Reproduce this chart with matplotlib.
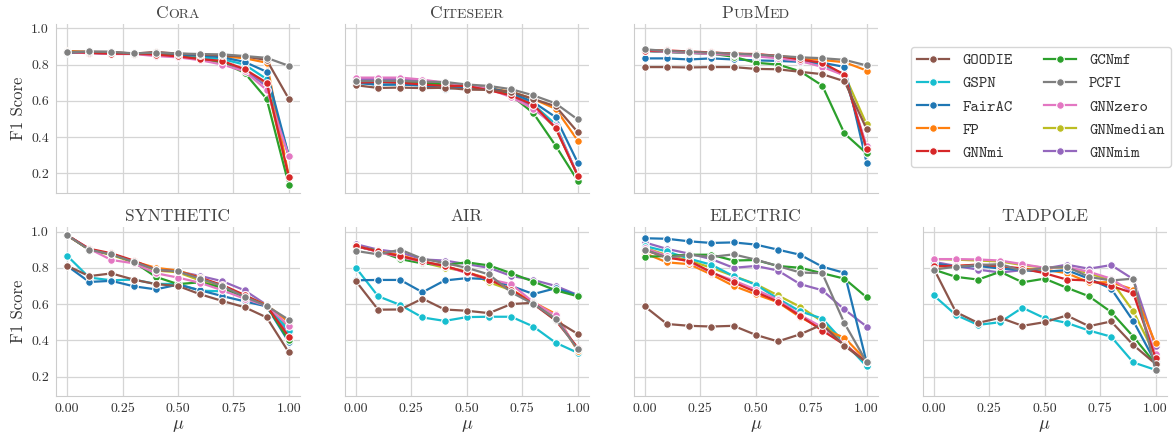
import matplotlib
matplotlib.use('Agg')
import matplotlib.pyplot as plt
from matplotlib.lines import Line2D
from matplotlib.ticker import FormatStrFormatter
from matplotlib.offsetbox import TextArea, HPacker, AnchoredOffsetbox

mu = [0.0, 0.1, 0.2, 0.3, 0.4, 0.5, 0.6, 0.7, 0.8, 0.9, 1.0]

methods = ['GOODIE', 'GSPN', 'FairAC', 'FP', 'GNNmi',
           'GCNmf', 'PCFI', 'GNNzero', 'GNNmedian', 'GNNmim']
colors = {'GOODIE': '#8c564b', 'GSPN': '#17becf', 'FairAC': '#1f77b4',
          'FP': '#ff7f0e', 'GNNmi': '#d62728', 'GCNmf': '#2ca02c',
          'PCFI': '#7f7f7f', 'GNNzero': '#e377c2', 'GNNmedian': '#bcbd22',
          'GNNmim': '#9467bd'}
# order the lines are drawn in (last one ends up on top)
draw_order = ['GNNmedian', 'GNNmim', 'GSPN', 'FP', 'FairAC', 'GCNmf',
              'GNNzero', 'GNNmi', 'GOODIE', 'PCFI']

cora = {
    'GOODIE':    [0.870, 0.870, 0.870, 0.860, 0.870, 0.860, 0.855, 0.850, 0.845, 0.825, 0.610],
    'GSPN':      [0.870, 0.865, 0.865, 0.860, 0.860, 0.850, 0.840, 0.830, 0.800, 0.720, 0.295],
    'FairAC':    [0.865, 0.865, 0.860, 0.860, 0.860, 0.855, 0.850, 0.840, 0.815, 0.760, 0.295],
    'FP':        [0.875, 0.870, 0.865, 0.860, 0.860, 0.855, 0.850, 0.845, 0.835, 0.810, 0.180],
    'GNNmi':     [0.870, 0.865, 0.860, 0.860, 0.855, 0.845, 0.830, 0.820, 0.775, 0.700, 0.180],
    'GCNmf':     [0.870, 0.865, 0.860, 0.860, 0.855, 0.845, 0.830, 0.810, 0.755, 0.610, 0.135],
    'PCFI':      [0.868, 0.872, 0.870, 0.862, 0.865, 0.861, 0.858, 0.856, 0.847, 0.837, 0.793],
    'GNNzero':   [0.870, 0.862, 0.858, 0.858, 0.847, 0.840, 0.824, 0.800, 0.763, 0.660, 0.295],
    'GNNmedian': [0.870, 0.865, 0.860, 0.860, 0.855, 0.845, 0.830, 0.815, 0.770, 0.690, 0.180],
    'GNNmim':    [0.870, 0.865, 0.860, 0.860, 0.855, 0.845, 0.830, 0.815, 0.770, 0.680, 0.295],
}

citeseer = {
    'GOODIE':    [0.686, 0.671, 0.673, 0.670, 0.672, 0.662, 0.660, 0.650, 0.610, 0.570, 0.427],
    'GSPN':      [0.700, 0.690, 0.690, 0.685, 0.680, 0.675, 0.665, 0.640, 0.580, 0.470, 0.187],
    'FairAC':    [0.700, 0.688, 0.690, 0.685, 0.667, 0.675, 0.670, 0.645, 0.593, 0.510, 0.259],
    'FP':        [0.710, 0.705, 0.705, 0.695, 0.690, 0.680, 0.670, 0.650, 0.610, 0.556, 0.381],
    'GNNmi':     [0.700, 0.704, 0.700, 0.690, 0.682, 0.682, 0.658, 0.630, 0.578, 0.451, 0.187],
    'GCNmf':     [0.710, 0.705, 0.705, 0.700, 0.690, 0.680, 0.665, 0.630, 0.532, 0.353, 0.159],
    'PCFI':      [0.708, 0.710, 0.710, 0.705, 0.704, 0.690, 0.682, 0.664, 0.630, 0.586, 0.497],
    'GNNzero':   [0.728, 0.728, 0.728, 0.717, 0.700, 0.685, 0.665, 0.620, 0.556, 0.460, 0.190],
    'GNNmedian': [0.715, 0.715, 0.715, 0.705, 0.695, 0.685, 0.665, 0.635, 0.570, 0.450, 0.190],
    'GNNmim':    [0.720, 0.720, 0.720, 0.710, 0.700, 0.685, 0.665, 0.630, 0.565, 0.455, 0.190],
}

pubmed = {
    'GOODIE':    [0.786, 0.786, 0.784, 0.786, 0.786, 0.776, 0.774, 0.760, 0.747, 0.708, 0.444],
    'GSPN':      [0.875, 0.870, 0.865, 0.860, 0.855, 0.850, 0.840, 0.825, 0.800, 0.740, 0.333],
    'FairAC':    [0.834, 0.834, 0.828, 0.834, 0.828, 0.823, 0.820, 0.815, 0.810, 0.787, 0.259],
    'FP':        [0.880, 0.875, 0.870, 0.865, 0.860, 0.855, 0.848, 0.835, 0.825, 0.813, 0.767],
    'GNNmi':     [0.876, 0.878, 0.872, 0.867, 0.860, 0.858, 0.848, 0.828, 0.810, 0.745, 0.333],
    'GCNmf':     [0.876, 0.870, 0.865, 0.860, 0.843, 0.810, 0.800, 0.763, 0.684, 0.420, 0.310],
    'PCFI':      [0.884, 0.875, 0.870, 0.865, 0.860, 0.855, 0.848, 0.840, 0.835, 0.826, 0.795],
    'GNNzero':   [0.876, 0.870, 0.865, 0.858, 0.853, 0.845, 0.835, 0.820, 0.787, 0.740, 0.350],
    'GNNmedian': [0.876, 0.870, 0.865, 0.860, 0.855, 0.848, 0.840, 0.825, 0.800, 0.745, 0.470],
    'GNNmim':    [0.876, 0.870, 0.865, 0.860, 0.855, 0.848, 0.840, 0.825, 0.800, 0.745, 0.340],
}

synthetic = {
    'GOODIE':    [0.811, 0.754, 0.769, 0.735, 0.710, 0.700, 0.654, 0.617, 0.583, 0.526, 0.333],
    'GSPN':      [0.867, 0.746, 0.731, 0.735, 0.711, 0.711, 0.674, 0.670, 0.650, 0.590, 0.454],
    'FairAC':    [0.811, 0.722, 0.728, 0.698, 0.681, 0.707, 0.676, 0.644, 0.615, 0.587, 0.390],
    'FP':        [0.980, 0.900, 0.875, 0.835, 0.800, 0.785, 0.745, 0.700, 0.645, 0.595, 0.500],
    'GNNmi':     [0.980, 0.905, 0.880, 0.840, 0.790, 0.780, 0.745, 0.705, 0.650, 0.590, 0.420],
    'GCNmf':     [0.980, 0.900, 0.875, 0.833, 0.750, 0.710, 0.720, 0.690, 0.640, 0.590, 0.400],
    'PCFI':      [0.980, 0.900, 0.874, 0.833, 0.790, 0.780, 0.740, 0.700, 0.640, 0.590, 0.513],
    'GNNzero':   [0.980, 0.905, 0.843, 0.825, 0.770, 0.746, 0.717, 0.676, 0.630, 0.590, 0.480],
    'GNNmedian': [0.980, 0.900, 0.870, 0.830, 0.785, 0.775, 0.730, 0.690, 0.640, 0.590, 0.470],
    'GNNmim':    [0.980, 0.900, 0.875, 0.835, 0.790, 0.780, 0.755, 0.726, 0.676, 0.595, 0.440],
}

air = {
    'GOODIE':    [0.726, 0.569, 0.570, 0.630, 0.570, 0.563, 0.550, 0.600, 0.607, 0.510, 0.435],
    'GSPN':      [0.800, 0.643, 0.595, 0.526, 0.507, 0.528, 0.530, 0.530, 0.476, 0.387, 0.331],
    'FairAC':    [0.731, 0.733, 0.733, 0.665, 0.730, 0.743, 0.737, 0.700, 0.655, 0.687, 0.648],
    'FP':        [0.920, 0.890, 0.870, 0.835, 0.810, 0.775, 0.740, 0.680, 0.610, 0.546, 0.340],
    'GNNmi':     [0.920, 0.890, 0.865, 0.835, 0.810, 0.775, 0.735, 0.680, 0.600, 0.510, 0.360],
    'GCNmf':     [0.917, 0.894, 0.848, 0.824, 0.815, 0.830, 0.813, 0.770, 0.724, 0.676, 0.643],
    'PCFI':      [0.893, 0.874, 0.900, 0.850, 0.826, 0.800, 0.763, 0.665, 0.600, 0.520, 0.350],
    'GNNzero':   [0.920, 0.887, 0.860, 0.833, 0.810, 0.770, 0.737, 0.710, 0.610, 0.537, 0.350],
    'GNNmedian': [0.920, 0.890, 0.865, 0.830, 0.800, 0.780, 0.720, 0.676, 0.605, 0.530, 0.350],
    'GNNmim':    [0.930, 0.900, 0.885, 0.846, 0.840, 0.820, 0.800, 0.755, 0.733, 0.700, 0.650],
}

electric = {
    'GOODIE':    [0.587, 0.490, 0.480, 0.476, 0.480, 0.430, 0.394, 0.433, 0.487, 0.370, 0.278],
    'GSPN':      [0.920, 0.890, 0.850, 0.817, 0.754, 0.707, 0.630, 0.560, 0.520, 0.387, 0.257],
    'FairAC':    [0.963, 0.960, 0.946, 0.937, 0.940, 0.928, 0.900, 0.872, 0.806, 0.772, 0.278],
    'FP':        [0.880, 0.830, 0.820, 0.763, 0.700, 0.654, 0.610, 0.528, 0.463, 0.415, 0.287],
    'GNNmi':     [0.898, 0.856, 0.838, 0.776, 0.720, 0.667, 0.613, 0.535, 0.454, 0.376, 0.278],
    'GCNmf':     [0.861, 0.865, 0.872, 0.872, 0.840, 0.843, 0.810, 0.800, 0.770, 0.740, 0.637],
    'PCFI':      [0.900, 0.856, 0.872, 0.860, 0.874, 0.845, 0.810, 0.774, 0.770, 0.494, 0.280],
    'GNNzero':   [0.907, 0.865, 0.833, 0.774, 0.730, 0.680, 0.624, 0.540, 0.472, 0.380, 0.278],
    'GNNmedian': [0.910, 0.870, 0.840, 0.800, 0.755, 0.710, 0.648, 0.585, 0.504, 0.380, 0.278],
    'GNNmim':    [0.940, 0.904, 0.878, 0.848, 0.800, 0.810, 0.785, 0.710, 0.676, 0.570, 0.476],
}

tadpole = {
    'GOODIE':    [0.796, 0.556, 0.496, 0.524, 0.480, 0.500, 0.537, 0.478, 0.504, 0.374, 0.270],
    'GSPN':      [0.648, 0.540, 0.485, 0.500, 0.580, 0.522, 0.496, 0.454, 0.420, 0.278, 0.237],
    'FairAC':    [0.824, 0.806, 0.810, 0.796, 0.787, 0.778, 0.787, 0.740, 0.685, 0.506, 0.278],
    'FP':        [0.806, 0.810, 0.815, 0.800, 0.795, 0.790, 0.770, 0.720, 0.720, 0.680, 0.383],
    'GNNmi':     [0.810, 0.810, 0.818, 0.810, 0.796, 0.770, 0.735, 0.730, 0.700, 0.660, 0.305],
    'GCNmf':     [0.790, 0.750, 0.735, 0.778, 0.720, 0.740, 0.690, 0.643, 0.556, 0.420, 0.270],
    'PCFI':      [0.790, 0.806, 0.815, 0.820, 0.783, 0.800, 0.806, 0.750, 0.730, 0.740, 0.237],
    'GNNzero':   [0.848, 0.848, 0.846, 0.840, 0.820, 0.800, 0.804, 0.778, 0.740, 0.660, 0.324],
    'GNNmedian': [0.848, 0.845, 0.840, 0.835, 0.815, 0.800, 0.800, 0.770, 0.730, 0.560, 0.315],
    'GNNmim':    [0.833, 0.810, 0.790, 0.774, 0.787, 0.796, 0.817, 0.795, 0.815, 0.737, 0.367],
}

panels = [(0, 0, 'Cora', cora), (0, 1, 'Citeseer', citeseer), (0, 2, 'PubMed', pubmed),
          (1, 0, 'SYNTHETIC', synthetic), (1, 1, 'AIR', air),
          (1, 2, 'ELECTRIC', electric), (1, 3, 'TADPOLE', tadpole)]

text_color = '#333333'
plt.rcParams.update({
    'font.family': ['cmr10', 'DejaVu Serif'],
    'mathtext.fontset': 'cm',
    'axes.formatter.use_mathtext': True,
    'axes.unicode_minus': False,
    'text.color': text_color,
    'axes.labelcolor': text_color,
    'xtick.color': text_color,
    'ytick.color': text_color,
})


def smallcaps_title(ax, name, size=12.5):
    # fake small caps: capitals at full size, the rest as smaller capitals
    runs = []
    for ch in name:
        big = ch.isupper()
        if runs and runs[-1][1] == big:
            runs[-1][0] += ch
        else:
            runs.append([ch, big])
    boxes = [TextArea(s if big else s.upper(),
                      textprops=dict(fontsize=size if big else size * 0.8,
                                     color='#444444', family='cmr10'))
             for s, big in runs]
    pack = HPacker(children=boxes, align='baseline', pad=0, sep=0)
    box = AnchoredOffsetbox(loc='lower center', child=pack, pad=0, borderpad=0,
                            frameon=False, bbox_to_anchor=(0.5, 1.02),
                            bbox_transform=ax.transAxes)
    ax.add_artist(box)


fig, axes = plt.subplots(2, 4, figsize=(11.76, 4.41), dpi=100, sharex=True, sharey=True)
fig.subplots_adjust(left=0.0476, right=0.992, top=0.945, bottom=0.102,
                    wspace=0.184, hspace=0.206)

for row, col, name, data in panels:
    ax = axes[row, col]
    for m in draw_order:
        ax.plot(mu, data[m], color=colors[m], marker='o', markersize=5.5,
                markeredgecolor='white', markeredgewidth=0.8, linewidth=1.6)
    smallcaps_title(ax, name)
    ax.grid(True, color='#d5d5d5', linewidth=0.9)
    ax.set_axisbelow(True)
    for side in ['top', 'right']:
        ax.spines[side].set_visible(False)
    for side in ['left', 'bottom']:
        ax.spines[side].set_color('#cccccc')
    ax.tick_params(length=0, labelsize=10, pad=5)

axes[0, 3].axis('off')
axes[0, 0].set_xticks([0, 0.25, 0.5, 0.75, 1.0])
axes[0, 0].set_yticks([0.2, 0.4, 0.6, 0.8, 1.0])
axes[0, 0].xaxis.set_major_formatter(FormatStrFormatter('%.2f'))
axes[0, 0].yaxis.set_major_formatter(FormatStrFormatter('%.1f'))
for r in range(2):
    axes[r, 0].set_ylabel('F1 Score', fontsize=12, labelpad=4)
for c in range(4):
    axes[1, c].set_xlabel(r'$\mu$', fontsize=13, labelpad=2)

handles = [Line2D([], [], color=colors[m], marker='o', markersize=5.5,
                  markeredgecolor='white', markeredgewidth=0.8, linewidth=1.6)
           for m in methods]
leg = fig.legend(handles, methods, ncol=2, loc='upper left',
                 bbox_to_anchor=(911 / 1176, 1 - 46.7 / 441), borderaxespad=0,
                 prop={'family': 'cmtt10', 'size': 11.5}, frameon=True,
                 fancybox=True, edgecolor='#cccccc')
for t in leg.get_texts():
    t.set_color(text_color)

fig.savefig('out.png', dpi=100)
